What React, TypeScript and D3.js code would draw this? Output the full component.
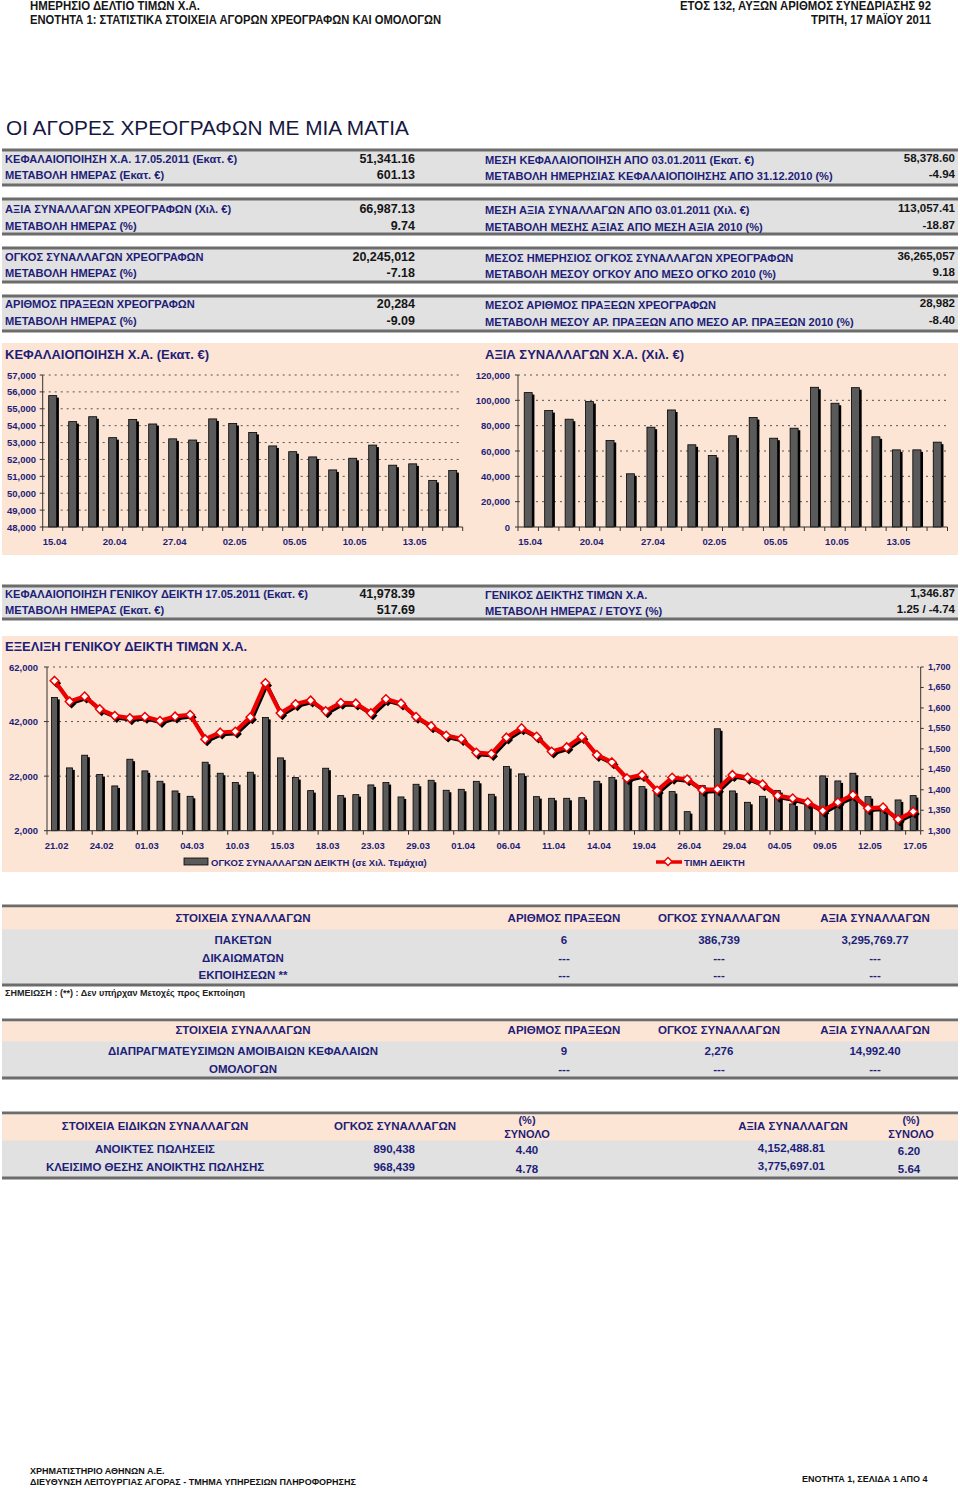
import React from 'react';
import * as d3 from 'd3';

const FONT = '"Liberation Sans", Arial, Helvetica, sans-serif';
const NARROW = '"Liberation Sans Narrow", "Arial Narrow", "Liberation Sans", sans-serif';
const NAVY = '#1e1e78';
const DARK = '#151515';
const PEACH = '#fce5d5';
const GRAY = '#e1e1e1';
const BORDER = '#6c6c6c';
const BAR = '#5a5a5a';

// ---------- texts ----------
const headerLeft = ['ΗΜΕΡΗΣΙΟ ΔΕΛΤΙΟ ΤΙΜΩΝ Χ.Α.', 'ΕΝΟΤΗΤΑ 1: ΣΤΑΤΙΣΤΙΚΑ ΣΤΟΙΧΕΙΑ ΑΓΟΡΩΝ ΧΡΕΟΓΡΑΦΩΝ ΚΑΙ ΟΜΟΛΟΓΩΝ'];
const headerRight = ['ΕΤΟΣ 132,  ΑΥΞΩΝ ΑΡΙΘΜΟΣ ΣΥΝΕΔΡΙΑΣΗΣ 92', 'ΤΡΙΤΗ, 17 ΜΑΪΟΥ 2011'];
const pageTitle = 'ΟΙ ΑΓΟΡΕΣ ΧΡΕΟΓΡΑΦΩΝ ΜΕ ΜΙΑ ΜΑΤΙΑ';

const statLeftLabels = [
  'ΚΕΦΑΛΑΙΟΠΟΙΗΣΗ Χ.Α. 17.05.2011 (Εκατ. €)', 'ΜΕΤΑΒΟΛΗ ΗΜΕΡΑΣ (Εκατ. €)',
  'ΑΞΙΑ ΣΥΝΑΛΛΑΓΩΝ ΧΡΕΟΓΡΑΦΩΝ (Χιλ. €)', 'ΜΕΤΑΒΟΛΗ ΗΜΕΡΑΣ (%)',
  'ΟΓΚΟΣ ΣΥΝΑΛΛΑΓΩΝ ΧΡΕΟΓΡΑΦΩΝ', 'ΜΕΤΑΒΟΛΗ ΗΜΕΡΑΣ (%)',
  'ΑΡΙΘΜΟΣ ΠΡΑΞΕΩΝ ΧΡΕΟΓΡΑΦΩΝ', 'ΜΕΤΑΒΟΛΗ ΗΜΕΡΑΣ (%)'];
const statLeftValues = ['51,341.16', '601.13', '66,987.13', '9.74', '20,245,012', '-7.18', '20,284', '-9.09'];
const statRightLabels = [
  'ΜΕΣΗ ΚΕΦΑΛΑΙΟΠΟΙΗΣΗ ΑΠΟ 03.01.2011 (Εκατ. €)', 'ΜΕΤΑΒΟΛΗ ΗΜΕΡΗΣΙΑΣ ΚΕΦΑΛΑΙΟΠΟΙΗΣΗΣ ΑΠΟ 31.12.2010 (%)',
  'ΜΕΣΗ ΑΞΙΑ ΣΥΝΑΛΛΑΓΩΝ ΑΠΟ 03.01.2011 (Χιλ. €)', 'ΜΕΤΑΒΟΛΗ ΜΕΣΗΣ ΑΞΙΑΣ ΑΠΟ ΜΕΣΗ ΑΞΙΑ 2010 (%)',
  'ΜΕΣΟΣ ΗΜΕΡΗΣΙΟΣ ΟΓΚΟΣ ΣΥΝΑΛΛΑΓΩΝ ΧΡΕΟΓΡΑΦΩΝ', 'ΜΕΤΑΒΟΛΗ ΜΕΣΟΥ ΟΓΚΟΥ ΑΠΟ ΜΕΣΟ ΟΓΚΟ 2010 (%)',
  'ΜΕΣΟΣ ΑΡΙΘΜΟΣ ΠΡΑΞΕΩΝ ΧΡΕΟΓΡΑΦΩΝ', 'ΜΕΤΑΒΟΛΗ ΜΕΣΟΥ ΑΡ. ΠΡΑΞΕΩΝ ΑΠΟ ΜΕΣΟ ΑΡ. ΠΡΑΞΕΩΝ 2010 (%)'];
const statRightValues = ['58,378.60', '-4.94', '113,057.41', '-18.87', '36,265,057', '9.18', '28,982', '-8.40'];

const idxLeftLabels = ['ΚΕΦΑΛΑΙΟΠΟΙΗΣΗ ΓΕΝΙΚΟΥ ΔΕΙΚΤΗ 17.05.2011 (Εκατ. €)', 'ΜΕΤΑΒΟΛΗ ΗΜΕΡΑΣ (Εκατ. €)'];
const idxLeftValues = ['41,978.39', '517.69'];
const idxRightLabels = ['ΓΕΝΙΚΟΣ ΔΕΙΚΤΗΣ ΤΙΜΩΝ Χ.Α.', 'ΜΕΤΑΒΟΛΗ ΗΜΕΡΑΣ / ΕΤΟΥΣ (%)'];
const idxRightValues = ['1,346.87', '1.25 / -4.74'];

// ---------- small charts ----------
const capTitle = 'ΚΕΦΑΛΑΙΟΠΟΙΗΣΗ Χ.Α. (Εκατ. €)';
const valTitle = 'ΑΞΙΑ ΣΥΝΑΛΛΑΓΩΝ Χ.Α. (Χιλ. €)';
const smallDates = ['15.04', '18.04', '19.04', '20.04', '21.04', '26.04', '27.04', '28.04', '29.04', '02.05', '03.05',
  '04.05', '05.05', '06.05', '09.05', '10.05', '11.05', '12.05', '13.05', '16.05', '17.05'];
const capValues = [55780, 54240, 54530, 53290, 54370, 54100, 53220, 53150, 54400, 54130, 53600,
  52800, 52460, 52150, 51380, 52070, 52850, 51660, 51740, 50760, 51341];
const capTicks = [48000, 49000, 50000, 51000, 52000, 53000, 54000, 55000, 56000, 57000];
const valValues = [106100, 91900, 85100, 99000, 68300, 42000, 78800, 92400, 64900, 56500, 72000,
  86400, 70100, 78000, 110300, 97700, 110000, 71200, 60900, 60900, 66987];
const valTicks = [0, 20000, 40000, 60000, 80000, 100000, 120000];

// ---------- big chart ----------
const bigTitle = 'ΕΞΕΛΙΞΗ ΓΕΝΙΚΟΥ ΔΕΙΚΤΗ ΤΙΜΩΝ Χ.Α.';
const bigDates = ['21.02', '22.02', '23.02', '24.02', '25.02', '28.02', '01.03', '02.03', '03.03', '04.03',
  '08.03', '09.03', '10.03', '11.03', '14.03', '15.03', '16.03', '17.03', '18.03', '21.03', '22.03', '23.03',
  '24.03', '28.03', '29.03', '30.03', '31.03', '01.04', '04.04', '05.04', '06.04', '07.04', '08.04', '11.04',
  '12.04', '13.04', '14.04', '15.04', '18.04', '19.04', '20.04', '21.04', '26.04', '27.04', '28.04', '29.04',
  '02.05', '03.05', '04.05', '05.05', '06.05', '09.05', '10.05', '11.05', '12.05', '13.05', '16.05', '17.05'];
const volumeValues = [50860, 25020, 29670, 22570, 18410, 28200, 23920, 20120, 16570, 14610,
  27100, 23060, 19630, 23430, 43510, 28690, 21470, 16690, 24900, 14860, 15220, 18780,
  19630, 14370, 19020, 20490, 16820, 17180, 20100, 15350, 25510, 22820, 14490, 13880,
  13880, 14120, 20120, 21470, 20860, 18160, 17550, 16330, 8980, 18530, 39350, 16570,
  12410, 14610, 16690, 11800, 11430, 22080, 20240, 23060, 14490, 10450, 13270, 14860];
const indexValues = [1666.5, 1615.9, 1628.2, 1597.1, 1580.8, 1575.1, 1578.4, 1568.6, 1579.2, 1583.3,
  1523.7, 1540.0, 1542.4, 1577.5, 1660.8, 1587.3, 1609.4, 1618.4, 1592.2, 1612.6, 1611.0, 1587.3,
  1621.6, 1611.0, 1578.4, 1555.5, 1532.6, 1524.5, 1491.0, 1487.8, 1527.8, 1550.6, 1530.2, 1493.5,
  1504.1, 1529.4, 1485.3, 1467.3, 1428.2, 1436.3, 1398.0, 1429.8, 1425.7, 1399.6, 1401.2, 1436.3,
  1429.8, 1413.5, 1385.7, 1379.2, 1369.4, 1349.0, 1369.4, 1387.3, 1354.7, 1357.1, 1327.8, 1346.87];
const volTicks = [2000, 22000, 42000, 62000];
const idxTicks = [1300, 1350, 1400, 1450, 1500, 1550, 1600, 1650, 1700];
const volLegend = 'ΟΓΚΟΣ ΣΥΝΑΛΛΑΓΩΝ ΔΕΙΚΤΗ (σε Χιλ. Τεμάχια)';
const idxLegend = 'ΤΙΜΗ ΔΕΙΚΤΗ';

// ---------- tables ----------
const tradeCols = ['ΣΤΟΙΧΕΙΑ ΣΥΝΑΛΛΑΓΩΝ', 'ΑΡΙΘΜΟΣ ΠΡΑΞΕΩΝ', 'ΟΓΚΟΣ ΣΥΝΑΛΛΑΓΩΝ', 'ΑΞΙΑ ΣΥΝΑΛΛΑΓΩΝ'];
const table1Rows = [['ΠΑΚΕΤΩΝ', '6', '386,739', '3,295,769.77'], ['ΔΙΚΑΙΩΜΑΤΩΝ', '---', '---', '---'], ['ΕΚΠΟΙΗΣΕΩΝ  **', '---', '---', '---']];
const table1Note = 'ΣΗΜΕΙΩΣΗ : (**) : Δεν υπήρχαν Μετοχές προς Εκποίηση';
const table2Rows = [['ΔΙΑΠΡΑΓΜΑΤΕΥΣΙΜΩΝ ΑΜΟΙΒΑΙΩΝ ΚΕΦΑΛΑΙΩΝ', '9', '2,276', '14,992.40'], ['ΟΜΟΛΟΓΩΝ', '---', '---', '---']];
const table3Cols = ['ΣΤΟΙΧΕΙΑ ΕΙΔΙΚΩΝ ΣΥΝΑΛΛΑΓΩΝ', 'ΟΓΚΟΣ ΣΥΝΑΛΛΑΓΩΝ', '(%)|ΣΥΝΟΛΟ', 'ΑΞΙΑ ΣΥΝΑΛΛΑΓΩΝ', '(%)|ΣΥΝΟΛΟ'];
const table3Rows = [['ΑΝΟΙΚΤΕΣ ΠΩΛΗΣΕΙΣ', '890,438', '4.40', '4,152,488.81', '6.20'],
  ['ΚΛΕΙΣΙΜΟ ΘΕΣΗΣ ΑΝΟΙΚΤΗΣ ΠΩΛΗΣΗΣ', '968,439', '4.78', '3,775,697.01', '5.64']];
const footerLeft = ['ΧΡΗΜΑΤΙΣΤΗΡΙΟ ΑΘΗΝΩΝ Α.Ε.', 'ΔΙΕΥΘΥΝΣΗ ΛΕΙΤΟΥΡΓΙΑΣ ΑΓΟΡΑΣ - ΤΜΗΜΑ ΥΠΗΡΕΣΙΩΝ ΠΛΗΡΟΦΟΡΗΣΗΣ'];
const footerRight = 'ΕΝΟΤΗΤΑ 1, ΣΕΛΙΔΑ 1 ΑΠΟ 4';

const fmt = d3.format(',');

function Band({ y0, y1 }: { y0: number; y1: number }) {
  return (
    <g>
      <rect x={2} y={y0} width={956} height={y1 - y0} fill={GRAY} />
      <rect x={2} y={y0 - 1.5} width={956} height={3} fill={BORDER} />
      <rect x={2} y={y1 - 1.5} width={956} height={3} fill={BORDER} />
    </g>
  );
}

function Bars({ values, x, y, base, w, k }: any) {
  return (
    <g>
      {values.map((v: number, i: number) => {
        const cx = (x(i) as number) + x.bandwidth() / 2;
        const top = y(v);
        return (
          <g key={k + i}>
            <rect x={cx - w / 2 + 2.2} y={top + 2} width={w} height={Math.max(0, base - top - 2)} fill="#000" />
            <rect x={cx - w / 2} y={top} width={w} height={base - top} fill={BAR} stroke="#000" strokeWidth={0.8} />
          </g>
        );
      })}
    </g>
  );
}

function SmallChart({ title, tx, ax, ae, yTop, yBot, domain, ticks, values, labelX }: any) {
  const x = d3.scaleBand<number>().domain(d3.range(values.length)).range([ax, ae]);
  const y = d3.scaleLinear().domain(domain).range([yBot, yTop]);
  return (
    <g>
      <text x={tx} y={354} dominantBaseline="central" fontFamily={FONT} fontWeight="bold" fontSize={13} fill={NAVY}>{title}</text>
      {ticks.map((t: number) => (
        <g key={'t' + t}>
          {t !== domain[0] && <line x1={ax} x2={ae} y1={y(t)} y2={y(t)} stroke="#555" strokeWidth={1} strokeDasharray="2,4" />}
          <line x1={ax - 3} x2={ax} y1={y(t)} y2={y(t)} stroke="#333" />
          <text x={labelX} y={y(t)} textAnchor="end" dominantBaseline="central" fontFamily={FONT} fontWeight="bold" fontSize={9.5} fill={NAVY}>{fmt(t)}</text>
        </g>
      ))}
      <Bars values={values} x={x} y={y} base={yBot} w={8} k={title} />
      <line x1={ax} x2={ax} y1={yTop} y2={yBot} stroke="#333" />
      <line x1={ax} x2={ae} y1={yBot} y2={yBot} stroke="#333" />
      {d3.range(values.length + 1).map((i) => (
        <line key={'xt' + i} x1={ax + i * x.bandwidth()} x2={ax + i * x.bandwidth()} y1={yBot} y2={yBot + 4} stroke="#333" />
      ))}
      {smallDates.map((d, i) => i % 3 === 0 ? (
        <text key={'xl' + i} x={(x(i) as number) + x.bandwidth() / 2 + 2} y={541} textAnchor="middle" dominantBaseline="central"
          fontFamily={FONT} fontWeight="bold" fontSize={9.5} fill={NAVY}>{d}</text>
      ) : null)}
    </g>
  );
}

function BigChart() {
  const ax = 47, ae = 920.7, yTop = 667, yBot = 830.7;
  const x = d3.scaleBand<number>().domain(d3.range(bigDates.length)).range([ax, ae]);
  const yL = d3.scaleLinear().domain([2000, 62000]).range([yBot, yTop]);
  const yR = d3.scaleLinear().domain([1300, 1700]).range([yBot, yTop]);
  const cx = (i: number) => (x(i) as number) + x.bandwidth() / 2;
  const line = d3.line<number>().x((_, i) => cx(i)).y((d) => yR(d));
  const lineShadow = d3.line<number>().x((_, i) => cx(i) + 1.8).y((d) => yR(d) + 2.2);
  const diamond = (px: number, py: number, s: number) => `M${px},${py - s}L${px + s},${py}L${px},${py + s}L${px - s},${py}Z`;
  return (
    <g>
      <rect x={2} y={636} width={956} height={236} fill={PEACH} />
      <text x={5} y={646} dominantBaseline="central" fontFamily={FONT} fontWeight="bold" fontSize={13} fill={NAVY}>{bigTitle}</text>
      {volTicks.map((t) => (
        <g key={'vl' + t}>
          {t !== 2000 && <line x1={ax} x2={ae} y1={yL(t)} y2={yL(t)} stroke="#555" strokeDasharray="2,4" />}
          <line x1={ax - 3} x2={ax} y1={yL(t)} y2={yL(t)} stroke="#333" />
          <text x={38} y={yL(t)} textAnchor="end" dominantBaseline="central" fontFamily={FONT} fontWeight="bold" fontSize={9.5} fill={NAVY}>{fmt(t)}</text>
        </g>
      ))}
      {idxTicks.map((t) => (
        <g key={'ir' + t}>
          <line x1={ae} x2={ae + 3} y1={yR(t)} y2={yR(t)} stroke="#333" />
          <text x={928} y={yR(t)} textAnchor="start" dominantBaseline="central" fontFamily={FONT} fontWeight="bold" fontSize={9} fill={NAVY}>{fmt(t)}</text>
        </g>
      ))}
      <Bars values={volumeValues} x={x} y={yL} base={yBot} w={6} k="big" />
      <path d={lineShadow(indexValues) || ''} fill="none" stroke="#000" strokeWidth={3} strokeLinejoin="round" />
      {indexValues.map((v, i) => <path key={'ds' + i} d={diamond(cx(i) + 2, yR(v) + 2.5, 4.6)} fill="#000" />)}
      <path d={line(indexValues) || ''} fill="none" stroke="#ee0000" strokeWidth={4.2} strokeLinejoin="round" />
      {indexValues.map((v, i) => <path key={'dm' + i} d={diamond(cx(i), yR(v), 4.3)} fill="#fff" stroke="#ee0000" strokeWidth={1.5} />)}
      <line x1={ax} x2={ax} y1={yTop} y2={yBot} stroke="#333" />
      <line x1={ae} x2={ae} y1={yTop} y2={yBot} stroke="#333" />
      <line x1={ax} x2={ae} y1={yBot} y2={yBot} stroke="#333" />
      {d3.range(0, bigDates.length + 1, 3).concat([bigDates.length]).map((i, j) => (
        <line key={'bt' + j} x1={ax + i * x.bandwidth()} x2={ax + i * x.bandwidth()} y1={yBot} y2={yBot + 4} stroke="#333" />
      ))}
      {bigDates.map((d, i) => i % 3 === 0 ? (
        <text key={'bl' + i} x={cx(i) + 2} y={845} textAnchor="middle" dominantBaseline="central" fontFamily={FONT} fontWeight="bold" fontSize={9.5} fill={NAVY}>{d}</text>
      ) : null)}
      {/* legend */}
      <rect x={184} y={858} width={24} height={7} fill={BAR} stroke="#000" strokeWidth={0.8} />
      <text x={211} y={862} dominantBaseline="central" fontFamily={FONT} fontWeight="bold" fontSize={9.5} fill={NAVY}>{volLegend}</text>
      <line x1={656} x2={682} y1={862} y2={862} stroke="#ee0000" strokeWidth={3.5} />
      <path d={diamond(668, 861.5, 4)} fill="#fff" stroke="#ee0000" strokeWidth={1.4} />
      <text x={684} y={862} dominantBaseline="central" fontFamily={FONT} fontWeight="bold" fontSize={9.5} fill={NAVY}>{idxLegend}</text>
    </g>
  );
}

function StatBlock({ top, bottom, r1, r2, labelsL, valuesL, labelsR, valuesR }: any) {
  return (
    <g>
      <Band y0={top} y1={bottom} />
      {[r1, r2].map((ry: number, j: number) => (
        <g key={'r' + j}>
          <text x={5} y={ry} dominantBaseline="central" fontFamily={FONT} fontWeight="bold" fontSize={11.1} fill={NAVY}>{labelsL[j]}</text>
          <text x={415} y={ry} textAnchor="end" dominantBaseline="central" fontFamily={FONT} fontWeight="bold" fontSize={12.5} fill={DARK}>{valuesL[j]}</text>
          <text x={485} y={ry + 1} dominantBaseline="central" fontFamily={FONT} fontWeight="bold" fontSize={11.1} fill={NAVY}>{labelsR[j]}</text>
          <text x={955} y={ry - 1} textAnchor="end" dominantBaseline="central" fontFamily={FONT} fontWeight="bold" fontSize={11.5} fill={DARK}>{valuesR[j]}</text>
        </g>
      ))}
    </g>
  );
}

const ntext = (x: number, y: number, s: string, anchor: string, size = 11, key?: string) => (
  <text key={key} x={x} y={y} textAnchor={anchor} dominantBaseline="central" fontFamily={NARROW} fontWeight="bold" fontSize={size} fill={NAVY}>{s}</text>
);

const htext = (x: number, y: number, s: string, len: number) => (
  <text x={x} y={y} dominantBaseline="central" fontFamily={NARROW} fontWeight="bold" fontSize={12.5} fill="#161616"
    textLength={len} lengthAdjust="spacingAndGlyphs">{s}</text>
);

export default function App() {
  const colX = [243, 564, 719, 875];
  const blocks = [[150, 185, 159, 175], [199, 234, 209, 226], [248, 282, 257, 273], [296, 331, 304, 321]];
  return (
    <div style={{ position: 'absolute', left: 0, top: 0 }}>
      <svg width={960} height={1488} viewBox="0 0 960 1488" style={{ display: 'block', background: '#fff' }}>
        {/* header */}
        {htext(30, 6, headerLeft[0], 170)}
        {htext(30, 19.5, headerLeft[1], 411)}
        {htext(680, 6, headerRight[0], 251)}
        {htext(811, 19.5, headerRight[1], 120)}
        <text x={6} y={127} dominantBaseline="central" fontFamily={FONT} fontSize={20.8} fill="#17173f">{pageTitle}</text>

        {blocks.map((b, i) => (
          <StatBlock key={'sb' + i} top={b[0]} bottom={b[1]} r1={b[2]} r2={b[3]}
            labelsL={statLeftLabels.slice(i * 2, i * 2 + 2)} valuesL={statLeftValues.slice(i * 2, i * 2 + 2)}
            labelsR={statRightLabels.slice(i * 2, i * 2 + 2)} valuesR={statRightValues.slice(i * 2, i * 2 + 2)} />
        ))}

        {/* small charts */}
        <rect x={2} y={343} width={956} height={212} fill={PEACH} />
        <SmallChart title={capTitle} tx={5} ax={42.7} ae={462.7} yTop={375} yBot={527} domain={[48000, 57000]} ticks={capTicks} values={capValues} labelX={36} />
        <SmallChart title={valTitle} tx={485} ax={518} ae={947.5} yTop={375} yBot={527} domain={[0, 120000]} ticks={valTicks} values={valValues} labelX={510} />

        <StatBlock top={586} bottom={619} r1={594} r2={610} labelsL={idxLeftLabels} valuesL={idxLeftValues} labelsR={idxRightLabels} valuesR={idxRightValues} />

        <BigChart />

        {/* table 1 */}
        <Band y0={906} y1={985} />
        <rect x={2} y={907.5} width={956} height={22} fill={PEACH} />
        {tradeCols.map((c, i) => ntext(colX[i], 918, c, 'middle', 11.5, 'h1' + i))}
        {table1Rows.map((r, j) => r.map((c, i) => ntext(colX[i], 940 + j * 17.5, c, 'middle', 11.5, 't1' + j + i)))}
        <text x={5} y={993} dominantBaseline="central" fontFamily={NARROW} fontWeight="bold" fontSize={9} fill="#222">{table1Note}</text>

        {/* table 2 */}
        <Band y0={1020} y1={1078} />
        <rect x={2} y={1021.5} width={956} height={20} fill={PEACH} />
        {tradeCols.map((c, i) => ntext(colX[i], 1030, c, 'middle', 11.5, 'h2' + i))}
        {table2Rows.map((r, j) => r.map((c, i) => ntext(colX[i], 1051 + j * 18, c, 'middle', 11.5, 't2' + j + i)))}

        {/* table 3 */}
        <Band y0={1113} y1={1178} />
        <rect x={2} y={1114.5} width={956} height={26} fill={PEACH} />
        {ntext(155, 1126, table3Cols[0], 'middle', 11.5, 'h30')}
        {ntext(395, 1126, table3Cols[1], 'middle', 11.5, 'h31')}
        {ntext(527, 1120, table3Cols[2].split('|')[0], 'middle', 11, 'h32a')}
        {ntext(527, 1134, table3Cols[2].split('|')[1], 'middle', 11, 'h32b')}
        {ntext(793, 1126, table3Cols[3], 'middle', 11.5, 'h33')}
        {ntext(911, 1120, table3Cols[4].split('|')[0], 'middle', 11, 'h34a')}
        {ntext(911, 1134, table3Cols[4].split('|')[1], 'middle', 11, 'h34b')}
        {table3Rows.map((r, j) => (
          <g key={'t3' + j}>
            {ntext(155, 1149 + j * 18, r[0], 'middle', 11.5)}
            {ntext(415, 1149 + j * 18, r[1], 'end', 11.5)}
            {ntext(527, 1150 + j * 19, r[2], 'middle', 11.5)}
            {ntext(825, 1148 + j * 18, r[3], 'end', 11.5)}
            {ntext(909, 1151 + j * 18, r[4], 'middle', 11.5)}
          </g>
        ))}

        {/* footer */}
        <text x={30} y={1471} dominantBaseline="central" fontFamily={NARROW} fontWeight="bold" fontSize={9} fill="#111">{footerLeft[0]}</text>
        <text x={30} y={1482} dominantBaseline="central" fontFamily={NARROW} fontWeight="bold" fontSize={9} fill="#111">{footerLeft[1]}</text>
        <text x={802} y={1479} dominantBaseline="central" fontFamily={NARROW} fontWeight="bold" fontSize={9} fill="#111">{footerRight}</text>
      </svg>
    </div>
  );
}
